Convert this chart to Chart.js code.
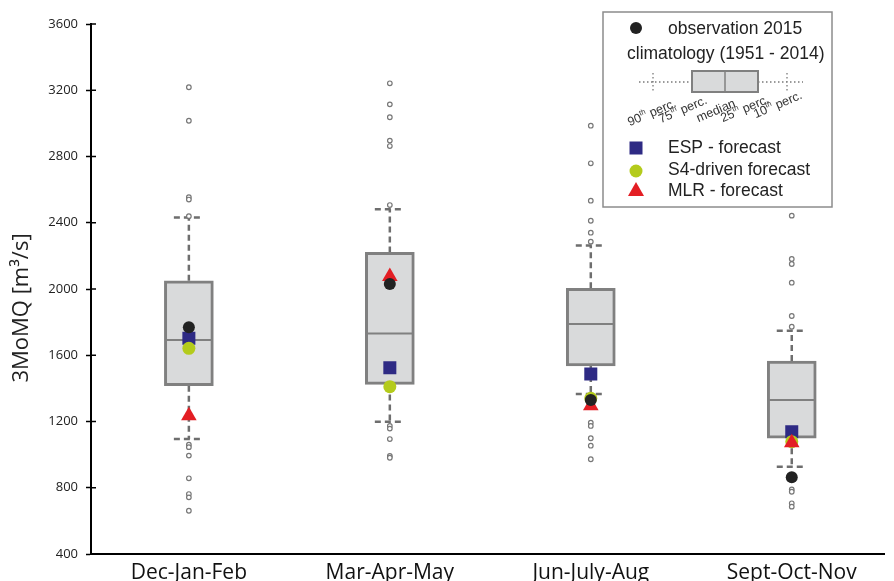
<!DOCTYPE html>
<html>
<head>
<meta charset="utf-8">
<script src="https://cdn.jsdelivr.net/npm/chart.js@4.4.1/dist/chart.umd.min.js"></script>
<style>
  html, body { margin: 0; padding: 0; background: #fff; }
</style>
</head>
<body>
<canvas id="chart1" width="894" height="581"></canvas>
<script>
const seasons = ["Dec-Jan-Feb", "Mar-Apr-May", "Jun-July-Aug", "Sept-Oct-Nov"];

// climatology 1951-2014
const p10 = [1094, 1199, 1366, 927];
const p25 = [1416, 1424, 1535, 1099];
const median = [1692, 1732, 1789, 1330];
const p75 = [2050, 2221, 2004, 1565];
const p90 = [2431, 2481, 2262, 1748];
const outliers = [
  [3218, 3016, 2554, 2540, 2440, 1060, 1045, 994, 857, 762, 742, 661],
  [3242, 3115, 3037, 2896, 2863, 2507, 1173, 1157, 1094, 992, 981],
  [2986, 2759, 2533, 2412, 2340, 2286, 1193, 1173, 1099, 1054, 972],
  [2443, 2181, 2151, 2038, 1837, 1772, 790, 776, 706, 686],
];

const observation = [1769, 2030, 1330, 863];
const esp = [1702, 1525, 1487, 1138];
const s4 = [1642, 1410, 1340, 1078];
const mlr = [1235, 2075, 1295, 1072];

const yTicks = [400, 800, 1200, 1600, 2000, 2400, 2800, 3200, 3600];

const pts = (arr) => arr.map((v, i) => ({ x: i, y: v }));

const boxPlugin = {
  id: "boxPlugin",
  beforeDatasetsDraw(chart) {
    const { ctx, scales: { x, y } } = chart;
    ctx.save();
    ctx.strokeStyle = "#6e6e6e";
    ctx.lineWidth = 2.5;
    ctx.setLineDash([6, 4]);
    seasons.forEach((s, i) => {
      const cx = x.getPixelForValue(i);
      ctx.beginPath();
      ctx.moveTo(cx, y.getPixelForValue(p75[i]));
      ctx.lineTo(cx, y.getPixelForValue(p90[i]));
      ctx.moveTo(cx, y.getPixelForValue(p25[i]));
      ctx.lineTo(cx, y.getPixelForValue(p10[i]));
      ctx.stroke();
      [p90[i], p10[i]].forEach((v) => {
        const py = y.getPixelForValue(v);
        ctx.beginPath();
        ctx.moveTo(cx - 15, py);
        ctx.lineTo(cx + 15, py);
        ctx.stroke();
      });
    });
    ctx.restore();
  },
  afterDatasetDraw(chart, args) {
    if (args.meta.type !== "bar") return;
    const { ctx, scales: { x, y } } = chart;
    ctx.save();
    ctx.strokeStyle = "#808080";
    ctx.lineWidth = 2;
    median.forEach((v, i) => {
      const cx = x.getPixelForValue(i);
      const py = y.getPixelForValue(v);
      ctx.beginPath();
      ctx.moveTo(cx - 23, py);
      ctx.lineTo(cx + 23, py);
      ctx.stroke();
    });
    ctx.restore();
  },
  afterDraw(chart) {
    const { ctx, scales: { y } } = chart;
    const ax = chart.chartArea.left;
    ctx.save();
    // inner half of the y tick marks
    ctx.strokeStyle = "#000";
    ctx.lineWidth = 1.5;
    yTicks.forEach((t) => {
      const py = y.getPixelForValue(t);
      ctx.beginPath();
      ctx.moveTo(ax, py);
      ctx.lineTo(ax + 5, py);
      ctx.stroke();
    });
    // y title
    ctx.translate(22, 308);
    ctx.rotate(-Math.PI / 2);
    ctx.font = '22px "Open Sans"';
    ctx.fillStyle = "#222";
    ctx.textAlign = "center";
    ctx.textBaseline = "middle";
    ctx.fillText("3MoMQ [m\u00b3/s]", 0, 0);
    ctx.restore();
    drawLegend(ctx);
  },
};

function rotLabel(ctx, a, sup, b, cx, cy) {
  ctx.save();
  ctx.translate(cx, cy);
  ctx.rotate((-23 * Math.PI) / 180);
  ctx.font = '12.5px "Liberation Sans"';
  const wa = ctx.measureText(a).width;
  const wb = ctx.measureText(b).width;
  ctx.font = '7.5px "Liberation Sans"';
  const ws = ctx.measureText(sup).width;
  let x0 = -(wa + ws + wb) / 2;
  ctx.textBaseline = "middle";
  ctx.textAlign = "left";
  ctx.font = '12.5px "Liberation Sans"';
  ctx.fillText(a, x0, 0);
  ctx.font = '7.5px "Liberation Sans"';
  ctx.fillText(sup, x0 + wa, -4);
  ctx.font = '12.5px "Liberation Sans"';
  ctx.fillText(b, x0 + wa + ws, 0);
  ctx.restore();
}

function drawLegend(ctx) {
  ctx.save();
  ctx.fillStyle = "#fff";
  ctx.fillRect(603, 12, 229, 195);
  ctx.strokeStyle = "#8c8c8c";
  ctx.lineWidth = 1.5;
  ctx.strokeRect(603, 12, 229, 195);

  ctx.fillStyle = "#222";
  ctx.font = '17.5px "Liberation Sans"';
  ctx.textBaseline = "middle";
  ctx.fillText("observation 2015", 668, 29);
  ctx.fillText("climatology (1951 - 2014)", 627, 54);
  ctx.fillText("ESP - forecast", 668, 148);
  ctx.fillText("S4-driven forecast", 668, 170);
  ctx.fillText("MLR - forecast", 668, 191);

  // markers
  ctx.fillStyle = "#222222";
  ctx.beginPath();
  ctx.arc(636, 28, 6, 0, Math.PI * 2);
  ctx.fill();
  ctx.fillStyle = "#2e2a84";
  ctx.fillRect(629.5, 141.5, 13, 13);
  ctx.fillStyle = "#b4cb1c";
  ctx.beginPath();
  ctx.arc(636, 171, 6.5, 0, Math.PI * 2);
  ctx.fill();
  ctx.fillStyle = "#e31e24";
  ctx.beginPath();
  ctx.moveTo(636, 182);
  ctx.lineTo(644, 196);
  ctx.lineTo(628, 196);
  ctx.closePath();
  ctx.fill();

  // mini box plot
  ctx.strokeStyle = "#7a7a7a";
  ctx.lineWidth = 1.3;
  ctx.setLineDash([1.5, 2.5]);
  ctx.beginPath();
  ctx.moveTo(639, 82);
  ctx.lineTo(692, 82);
  ctx.moveTo(758, 82);
  ctx.lineTo(803, 82);
  ctx.moveTo(653, 73);
  ctx.lineTo(653, 91);
  ctx.moveTo(787, 73);
  ctx.lineTo(787, 91);
  ctx.stroke();
  ctx.setLineDash([]);
  ctx.fillStyle = "#d9dadb";
  ctx.fillRect(692, 71, 66, 21);
  ctx.strokeStyle = "#808080";
  ctx.lineWidth = 2;
  ctx.strokeRect(692, 71, 66, 21);
  ctx.lineWidth = 1.5;
  ctx.beginPath();
  ctx.moveTo(725, 71);
  ctx.lineTo(725, 92);
  ctx.stroke();

  ctx.fillStyle = "#333";
  rotLabel(ctx, "90", "th", " perc.", 652, 113);
  rotLabel(ctx, "75", "th", " perc.", 683, 110);
  rotLabel(ctx, "median", "", "", 716, 111);
  rotLabel(ctx, "25", "th", " perc.", 745, 109);
  rotLabel(ctx, "10", "th", " perc.", 778, 105);
  ctx.restore();
}

const chart1 = document.getElementById("chart1").getContext("2d");

const flowChart = new Chart(chart1, {
  type: "scatter",
  data: {
    datasets: [
      {
        type: "bar",
        data: seasons.map((s, i) => ({ x: i, y: [p25[i], p75[i]] })),
        backgroundColor: "#d9dadb",
        borderColor: "#808080",
        borderWidth: 3,
        borderSkipped: false,
        barThickness: 49,
        order: 5,
      },
      {
        data: outliers.flatMap((arr, i) => arr.map((v) => ({ x: i, y: v }))),
        pointStyle: "circle",
        pointRadius: 2.3,
        backgroundColor: "#ffffff",
        borderColor: "#777777",
        borderWidth: 1.2,
        order: 4,
      },
      {
        data: pts(esp),
        pointStyle: "rect",
        pointRadius: 9.2,
        backgroundColor: "#2e2a84",
        borderWidth: 0,
        order: 3,
      },
      {
        data: pts(s4),
        pointStyle: "circle",
        pointRadius: 6.5,
        backgroundColor: "#b4cb1c",
        borderWidth: 0,
        order: 2,
      },
      {
        data: pts(mlr),
        pointStyle: "triangle",
        pointRadius: 9,
        backgroundColor: "#e31e24",
        borderWidth: 0,
        order: 1,
      },
      {
        data: pts(observation),
        pointStyle: "circle",
        pointRadius: 6,
        backgroundColor: "#222222",
        borderWidth: 0,
        order: 0,
      },
    ],
  },
  options: {
    responsive: false,
    animation: false,
    devicePixelRatio: 1,
    layout: { padding: { left: 0, right: 4, top: 24, bottom: 0 } },
    plugins: { legend: { display: false }, tooltip: { enabled: false } },
    scales: {
      x: {
        type: "linear",
        min: -0.487,
        max: 3.463,
        offset: false,
        afterFit: (scale) => { scale.height = 27; },
        afterBuildTicks: (scale) => { scale.ticks = seasons.map((s, i) => ({ value: i })); },
        grid: { display: false, drawTicks: false, offset: false },
        border: { color: "#000", width: 2 },
        ticks: {
          autoSkip: false,
          maxRotation: 0,
          padding: 6,
          color: "#111",
          font: { family: "Open Sans", size: 21 },
          callback: (v) => seasons[v],
        },
      },
      y: {
        min: 400,
        max: 3600,
        afterFit: (scale) => { scale.width = 91; },
        afterBuildTicks: (scale) => { scale.ticks = yTicks.map((t) => ({ value: t })); },
        grid: { drawOnChartArea: false, tickLength: 5, color: "#000", tickWidth: 1.5 },
        border: { color: "#000", width: 2 },
        ticks: {
          padding: 8,
          color: "#222",
          font: { family: "Open Sans", size: 13 },
          callback: (v) => String(v),
        },
      },
    },
  },
  plugins: [boxPlugin],
});
</script>
</body>
</html>
